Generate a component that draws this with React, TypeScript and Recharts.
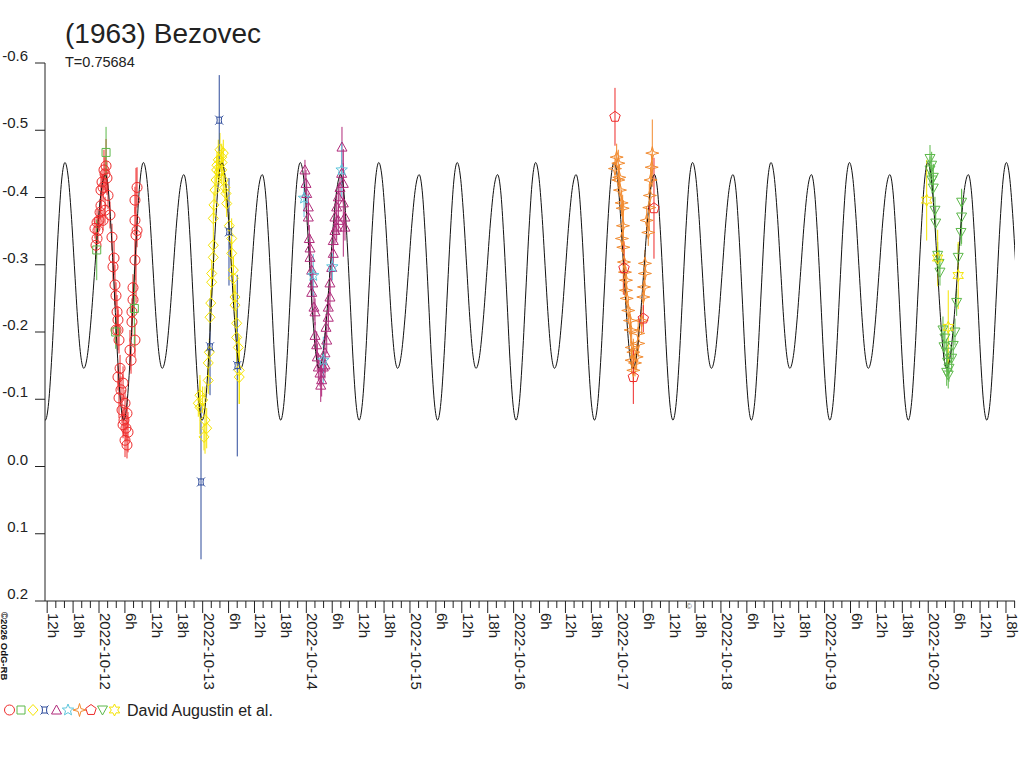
import React from 'react';
import { ComposedChart, Line, Scatter, XAxis, YAxis, ErrorBar, Legend } from 'recharts';

const FONT = "'Liberation Sans', Arial, Helvetica, sans-serif";
const INK = '#222222';

// ---- model light curve: one cycle (phase, magnitude) ----
const PERIOD = 0.75684; // days
const EPOCH = 0.61; // days after 2022-10-12 00:00 (shallow minimum)
const cyclePhase = [0, 0.046, 0.092, 0.138, 0.183, 0.229, 0.275, 0.314, 0.353, 0.393, 0.432, 0.471, 0.51, 0.552, 0.593, 0.635, 0.677, 0.718, 0.76, 0.8, 0.84, 0.88, 0.92, 0.96];
const cycleMag = [-0.146, -0.165, -0.218, -0.29, -0.362, -0.415, -0.434, -0.41, -0.343, -0.252, -0.16, -0.093, -0.069, -0.095, -0.165, -0.261, -0.356, -0.426, -0.452, -0.432, -0.376, -0.299, -0.222, -0.166];

// ---- observations (t = days after 2022-10-12 00:00) ----
const redT = [-0.029, -0.019, -0.01, 0.0, 0.01, 0.019, 0.019, 0.029, 0.039, 0.039, 0.048, 0.058, 0.058, 0.068, 0.077, 0.087, 0.106, -0.039, -0.019,
  0.125, 0.145, 0.135, 0.154, 0.164, 0.174, 0.183, 0.183, 0.193, 0.164,
  0.203, 0.183, 0.232, 0.212, 0.193, 0.251, 0.222, 0.27, 0.241, 0.28, 0.251, 0.27, 0.26, 0.232,
  0.309, 0.299, 0.347, 0.318, 0.318, 0.328, 0.328, 0.347, 0.367, 0.347, 0.347, 0.367, 0.357];
const redMag = [-0.329, -0.339, -0.351, -0.366, -0.378, -0.388, -0.411, -0.423, -0.415, -0.366, -0.441, -0.435, -0.381, -0.447, -0.429, -0.403, -0.374, -0.354, -0.363,
  -0.341, -0.31, -0.297, -0.27, -0.254, -0.23, -0.218, -0.203, -0.188, -0.203,
  -0.146, -0.133, -0.124, -0.114, -0.102, -0.094, -0.084, -0.079, -0.069, -0.051, -0.039, -0.032, -0.057, -0.062,
  -0.158, -0.173, -0.188, -0.215, -0.23, -0.248, -0.266, -0.307, -0.351, -0.366, -0.396, -0.415, -0.344];
const redErr = [0.02, 0.015, 0.02, 0.015, 0.02, 0.02, 0.025, 0.02, 0.02, 0.015, 0.03, 0.025, 0.02, 0.04, 0.025, 0.02, 0.02, 0.015, 0.02,
  0.02, 0.025, 0.02, 0.03, 0.02, 0.025, 0.02, 0.03, 0.02, 0.02,
  0.02, 0.02, 0.025, 0.02, 0.03, 0.02, 0.02, 0.025, 0.02, 0.03, 0.025, 0.02, 0.02, 0.02,
  0.02, 0.03, 0.025, 0.02, 0.02, 0.025, 0.02, 0.03, 0.025, 0.02, 0.02, 0.03, 0.1];

const greenT = [0.068, -0.022, 0.161, 0.341];
const greenMag = [-0.467, -0.322, -0.2, -0.235];
const greenErr = [0.038, 0.045, 0.025, 0.057];

const yelT = [0.974, 1.0, 0.974, 1.023, 1.039, 1.013, 0.958, 1.054, 1.054, 1.064, 1.071, 1.078, 1.087, 1.087, 1.103, 1.103, 1.103, 1.109, 1.119, 1.129, 1.135,
  1.151, 1.167, 1.184, 1.199, 1.184, 1.199, 1.215, 1.232, 1.225, 1.257, 1.28, 1.28, 1.296, 1.296, 1.312, 1.312, 1.328, 1.328, 1.344, 1.353, 1.353, 1.138, 1.158, 1.187];
const yelMag = [-0.106, -0.099, -0.088, -0.069, -0.057, -0.044, -0.094, -0.128, -0.154, -0.17, -0.222, -0.243, -0.274, -0.287, -0.311, -0.329, -0.369, -0.389, -0.411, -0.426, -0.441,
  -0.456, -0.471, -0.46, -0.466, -0.441, -0.426, -0.415, -0.391, -0.406, -0.358, -0.339, -0.317, -0.292, -0.28, -0.252, -0.24, -0.213, -0.192, -0.177, -0.143, -0.133, -0.448, -0.438, -0.452];
const yelErr = [0.03, 0.02, 0.04, 0.05, 0.03, 0.02, 0.02, 0.02, 0.02, 0.02, 0.02, 0.02, 0.02, 0.02, 0.02, 0.02, 0.02, 0.02, 0.02, 0.02, 0.02,
  0.03, 0.025, 0.02, 0.02, 0.02, 0.02, 0.02, 0.02, 0.02, 0.02, 0.03, 0.02, 0.02, 0.03, 0.02, 0.03, 0.02, 0.04, 0.02, 0.05, 0.04, 0.02, 0.02, 0.02];

const blueT = [1.16, 1.254, 1.071, 1.334, 0.984];
const blueMag = [-0.515, -0.349, -0.178, -0.15, 0.023];
const blueErr = [0.067, 0.08, 0.072, 0.135, 0.115];

const magT = [1.987, 1.997, 2.004, 2.019, 2.019, 2.029, 2.036, 2.036, 2.052, 2.062, 2.052, 2.074, 2.084, 2.084, 2.1, 2.106, 2.116, 2.132, 2.148, 2.164,
  2.18, 2.139, 2.18, 2.197, 2.19, 2.212, 2.212, 2.228, 2.228, 2.245, 2.26, 2.26, 2.276, 2.276, 2.293, 2.309, 2.325, 2.341, 2.357, 2.357, 2.373, 2.373, 2.344, 2.309, 2.293];
const magMag = [-0.441, -0.421, -0.406, -0.386, -0.371, -0.339, -0.325, -0.311, -0.292, -0.273, -0.259, -0.237, -0.23, -0.195, -0.181, -0.163, -0.148, -0.139, -0.129, -0.148,
  -0.151, -0.121, -0.169, -0.188, -0.207, -0.222, -0.237, -0.252, -0.273, -0.296, -0.317, -0.336, -0.351, -0.371, -0.386, -0.401, -0.415, -0.436, -0.421, -0.392, -0.371, -0.356, -0.475, -0.366, -0.356];
const magErr = [0.015, 0.02, 0.02, 0.02, 0.02, 0.02, 0.02, 0.02, 0.02, 0.02, 0.02, 0.02, 0.02, 0.02, 0.02, 0.02, 0.02, 0.02, 0.025, 0.02,
  0.02, 0.025, 0.03, 0.02, 0.02, 0.02, 0.02, 0.02, 0.02, 0.02, 0.02, 0.02, 0.02, 0.02, 0.02, 0.02, 0.02, 0.02, 0.03, 0.08, 0.02, 0.02, 0.03, 0.02, 0.02];

const cyanT = [1.978, 2.067, 2.251, 2.341, 2.164];
const cyanMag = [-0.399, -0.284, -0.297, -0.441, -0.158];
const cyanErr = [0.028, 0.032, 0.02, 0.042, 0.035];

const oraT = [4.994, 5.01, 4.978, 5.019, 5.01, 5.026, 5.042, 5.052, 5.058, 5.065, 5.074, 5.084, 5.084, 5.091, 5.106, 5.123, 5.129, 5.139, 5.155, 5.139,
  5.171, 5.155, 5.187, 5.202, 5.202, 5.235, 5.251, 5.258, 5.267, 5.267, 5.299, 5.284, 5.309, 5.315, 5.322, 5.332, 5.338, 5.055, 5.045];
const oraMag = [-0.46, -0.451, -0.443, -0.43, -0.426, -0.411, -0.392, -0.384, -0.326, -0.304, -0.289, -0.277, -0.262, -0.25, -0.232, -0.217, -0.203, -0.177, -0.17, -0.158,
  -0.154, -0.143, -0.163, -0.183, -0.198, -0.217, -0.252, -0.267, -0.287, -0.302, -0.348, -0.366, -0.385, -0.403, -0.426, -0.445, -0.466, -0.358, -0.339];
const oraErr = [0.02, 0.02, 0.02, 0.02, 0.02, 0.02, 0.02, 0.02, 0.07, 0.02, 0.02, 0.02, 0.02, 0.02, 0.02, 0.02, 0.02, 0.03, 0.02, 0.02,
  0.02, 0.02, 0.02, 0.02, 0.02, 0.02, 0.02, 0.02, 0.02, 0.02, 0.02, 0.02, 0.035, 0.02, 0.02, 0.02, 0.05, 0.02, 0.02];

const penT = [4.978, 5.065, 5.354, 5.251, 5.155];
const penMag = [-0.52, -0.295, -0.384, -0.22, -0.133];
const penErr = [0.043, 0.04, 0.075, 0.02, 0.04];

const triT = [8.017, 8.033, 8.017, 8.049, 8.049, 8.065, 8.072, 8.091, 8.104, 8.113, 8.161, 8.178, 8.187, 8.178, 8.193, 8.226, 8.241, 8.258, 8.274, 8.289,
  8.316, 8.322, 8.322, 8.152, 8.2, 8.142, 8.036];
const triMag = [-0.458, -0.448, -0.441, -0.43, -0.414, -0.381, -0.362, -0.314, -0.302, -0.289, -0.191, -0.17, -0.155, -0.14, -0.136, -0.161, -0.18, -0.2, -0.244, -0.311,
  -0.348, -0.371, -0.393, -0.178, -0.146, -0.203, -0.426];
const triErr = [0.02, 0.02, 0.02, 0.02, 0.02, 0.02, 0.025, 0.02, 0.02, 0.02, 0.02, 0.02, 0.02, 0.02, 0.02, 0.02, 0.02, 0.02, 0.02, 0.02,
  0.02, 0.04, 0.02, 0.02, 0.02, 0.02, 0.02];

const starT = [7.985, 8.091, 8.289, 8.193];
const starMag = [-0.396, -0.31, -0.284, -0.207];
const starErr = [0.06, 0.042, 0.05, 0.055];

// ---- axes ----
const X_MIN = -0.521;
const X_MAX = 8.837;
const dayLabels = ['2022-10-11', '2022-10-12', '2022-10-13', '2022-10-14', '2022-10-15', '2022-10-16', '2022-10-17', '2022-10-18', '2022-10-19', '2022-10-20'];
const hourLabels: Record<number, string> = { 6: '6h', 12: '12h', 18: '18h' };
const xTicks = Array.from({ length: 113 }, (_, k) => (k - 6) / 12);
const yTicks = [-0.6, -0.5, -0.4, -0.3, -0.2, -0.1, 0, 0.1, 0.2];
const yTickLabels = ['-0.6', '-0.5', '-0.4', '-0.3', '-0.2', '-0.1', '0.0', '0.1', '0.2'];
const LEGEND_TEXT = 'David Augustin et al.';

// ---- build tables ----
const rows = (t: number[], m: number[], e: number[]) => t.map((v, i) => ({ t: v, mag: m[i], e: e[i] }));
const curve: { t: number; mag: number }[] = [];
for (let k = -3; k <= 12; k++) {
  cyclePhase.forEach((p, j) => {
    const t = EPOCH + (k + p) * PERIOD;
    if (t > X_MIN - 0.05 && t < X_MAX + 0.05) curve.push({ t, mag: cycleMag[j] });
  });
}

type Kind = 'circle' | 'square' | 'diamond' | 'quad' | 'tri' | 'star5' | 'star4' | 'pent' | 'dtri' | 'star6';

const polyPath = (n: number, outer: number, inner: number | null, rot: number) => {
  const pts: string[] = [];
  const count = inner === null ? n : n * 2;
  for (let i = 0; i < count; i++) {
    const r = inner === null ? outer : i % 2 === 0 ? outer : inner;
    const a = rot + (i * Math.PI * 2) / count;
    pts.push(`${(r * Math.sin(a)).toFixed(2)},${(-r * Math.cos(a)).toFixed(2)}`);
  }
  return 'M' + pts.join('L') + 'Z';
};

const SHAPES: Record<Kind, string> = {
  circle: '',
  square: 'M-4,-4L4,-4L4,4L-4,4Z',
  diamond: 'M0,-5.5L5,0L0,5.5L-5,0Z',
  quad: 'M-4,-4.5L-2.5,-3L2.5,-3L4,-4.5M-4,4.5L-2.5,3L2.5,3L4,4.5M-2.5,-3Q-1.5,0,-2.5,3M2.5,-3Q1.5,0,2.5,3',
  tri: 'M0,-5L5,4L-5,4Z',
  star5: polyPath(5, 6, 2.6, 0),
  star4: polyPath(4, 6.5, 2, 0),
  pent: polyPath(5, 5.5, null, 0),
  dtri: 'M-5,-4L5,-4L0,5Z',
  star6: polyPath(6, 6, 3.2, 0),
};

const Marker = ({ kind, cx, cy, color }: { kind: Kind; cx: number; cy: number; color: string }) => {
  if (cx == null || cy == null || isNaN(cx) || isNaN(cy)) return null;
  if (kind === 'circle') return <circle cx={cx} cy={cy} r={5} fill="none" stroke={color} strokeWidth={1} />;
  return <path d={SHAPES[kind]} transform={`translate(${cx},${cy})`} fill="none" stroke={color} strokeWidth={1} />;
};

const SERIES: { name: string; kind: Kind; color: string; data: { t: number; mag: number; e: number }[] }[] = [
  { name: 'red', kind: 'circle', color: '#ee2b2b', data: rows(redT, redMag, redErr) },
  { name: 'green', kind: 'square', color: '#5cb84a', data: rows(greenT, greenMag, greenErr) },
  { name: 'yellow', kind: 'diamond', color: '#f5e400', data: rows(yelT, yelMag, yelErr) },
  { name: 'blue', kind: 'quad', color: '#2c4a9a', data: rows(blueT, blueMag, blueErr) },
  { name: 'magenta', kind: 'tri', color: '#b02a7a', data: rows(magT, magMag, magErr) },
  { name: 'cyan', kind: 'star5', color: '#5cc6dc', data: rows(cyanT, cyanMag, cyanErr) },
  { name: 'orange', kind: 'star4', color: '#f28a2e', data: rows(oraT, oraMag, oraErr) },
  { name: 'pentagon', kind: 'pent', color: '#ee2a2a', data: rows(penT, penMag, penErr) },
  { name: 'greentri', kind: 'dtri', color: '#5cb84a', data: rows(triT, triMag, triErr) },
  { name: 'yellowstar', kind: 'star6', color: '#f5e400', data: rows(starT, starMag, starErr) },
];

const XTick = (props: any) => {
  const { x, y, payload } = props;
  const i = Math.round(payload.value * 12);
  const h = (((i % 12) + 12) % 12) * 2;
  const major = h % 6 === 0;
  const label = h === 0 ? dayLabels[Math.floor(i / 12) + 1] : hourLabels[h] || '';
  return (
    <g>
      <line x1={x} y1={y} x2={x} y2={y + (major ? 12 : 7)} stroke={INK} strokeWidth={1} />
      {label ? (
        <text transform={`translate(${x + 1},${y + 12}) rotate(90)`} fontSize={15} fill={INK} fontFamily={FONT}>
          {label}
        </text>
      ) : null}
    </g>
  );
};

const YTick = (props: any) => {
  const { x, y, index } = props;
  return (
    <g>
      <line x1={x - 10} y1={y} x2={x} y2={y} stroke={INK} strokeWidth={1} />
      <text x={x - 17} y={y - 2} textAnchor="end" fontSize={15} fill={INK} fontFamily={FONT}>
        {yTickLabels[index]}
      </text>
    </g>
  );
};

const LEGEND_X = [9.5, 21, 33, 44.5, 56.5, 68, 79.5, 91, 102.5, 114.5];

const LegendContent = () => (
  <svg width={320} height={24} style={{ display: 'block' }}>
    {SERIES.map((s, i) => (
      <Marker key={s.name} kind={s.kind} cx={LEGEND_X[i]} cy={11} color={s.color} />
    ))}
    <text x={127} y={17} fontSize={16} fill={INK} fontFamily={FONT}>
      {LEGEND_TEXT}
    </text>
  </svg>
);

export default function App() {
  return (
    <div style={{ position: 'absolute', left: 0, top: 0, width: 1024, height: 768, background: '#fff' }}>
      <ComposedChart width={1024} height={768} margin={{ top: 63, right: 9, bottom: 0, left: 0 }}>
        <XAxis
          type="number"
          dataKey="t"
          domain={[X_MIN, X_MAX]}
          allowDataOverflow
          ticks={xTicks}
          interval={0}
          tick={(p: any) => <XTick {...p} />}
          tickLine={false}
          tickSize={0}
          tickMargin={0}
          height={167}
          axisLine={{ stroke: INK }}
        />
        <YAxis
          type="number"
          dataKey="mag"
          domain={[-0.6, 0.2]}
          reversed
          allowDataOverflow
          ticks={yTicks}
          interval={0}
          tick={(p: any) => <YTick {...p} />}
          tickLine={false}
          tickSize={0}
          tickMargin={0}
          width={45}
          axisLine={{ stroke: INK }}
        />
        <Legend
          layout="horizontal"
          verticalAlign="middle"
          align="center"
          content={() => <LegendContent />}
          wrapperStyle={{ position: 'absolute', left: 0, top: 699, width: 320, height: 24 }}
        />
        {SERIES.map((s) => (
          <Scatter
            key={s.name}
            name={s.name}
            data={s.data}
            dataKey="mag"
            isAnimationActive={false}
            shape={(p: any) => <Marker kind={s.kind} cx={p.cx} cy={p.cy} color={s.color} />}
          >
            <ErrorBar dataKey="e" direction="y" width={0} stroke={s.color} strokeWidth={1} />
          </Scatter>
        ))}
        <Line
          data={curve}
          dataKey="mag"
          type="monotone"
          stroke="#111"
          strokeWidth={1}
          dot={false}
          activeDot={false}
          isAnimationActive={false}
        />
      </ComposedChart>
      <svg width={1024} height={768} style={{ position: 'absolute', left: 0, top: 0, pointerEvents: 'none' }}>
        <text x={65} y={42.7} fontSize={28} fill={INK} fontFamily={FONT}>
          (1963) Bezovec
        </text>
        <text x={65} y={66.5} fontSize={14.5} fill={INK} fontFamily={FONT}>
          T=0.75684
        </text>
        <text transform="translate(1,612) rotate(90)" fontSize={9.5} fontWeight="bold" fill="#111" fontFamily={FONT}>
          ©2026 OdG-RB
        </text>
        <text x={686} y={609} fontSize={8} fill="#555" fontFamily={FONT}>
          ©
        </text>
      </svg>
    </div>
  );
}
